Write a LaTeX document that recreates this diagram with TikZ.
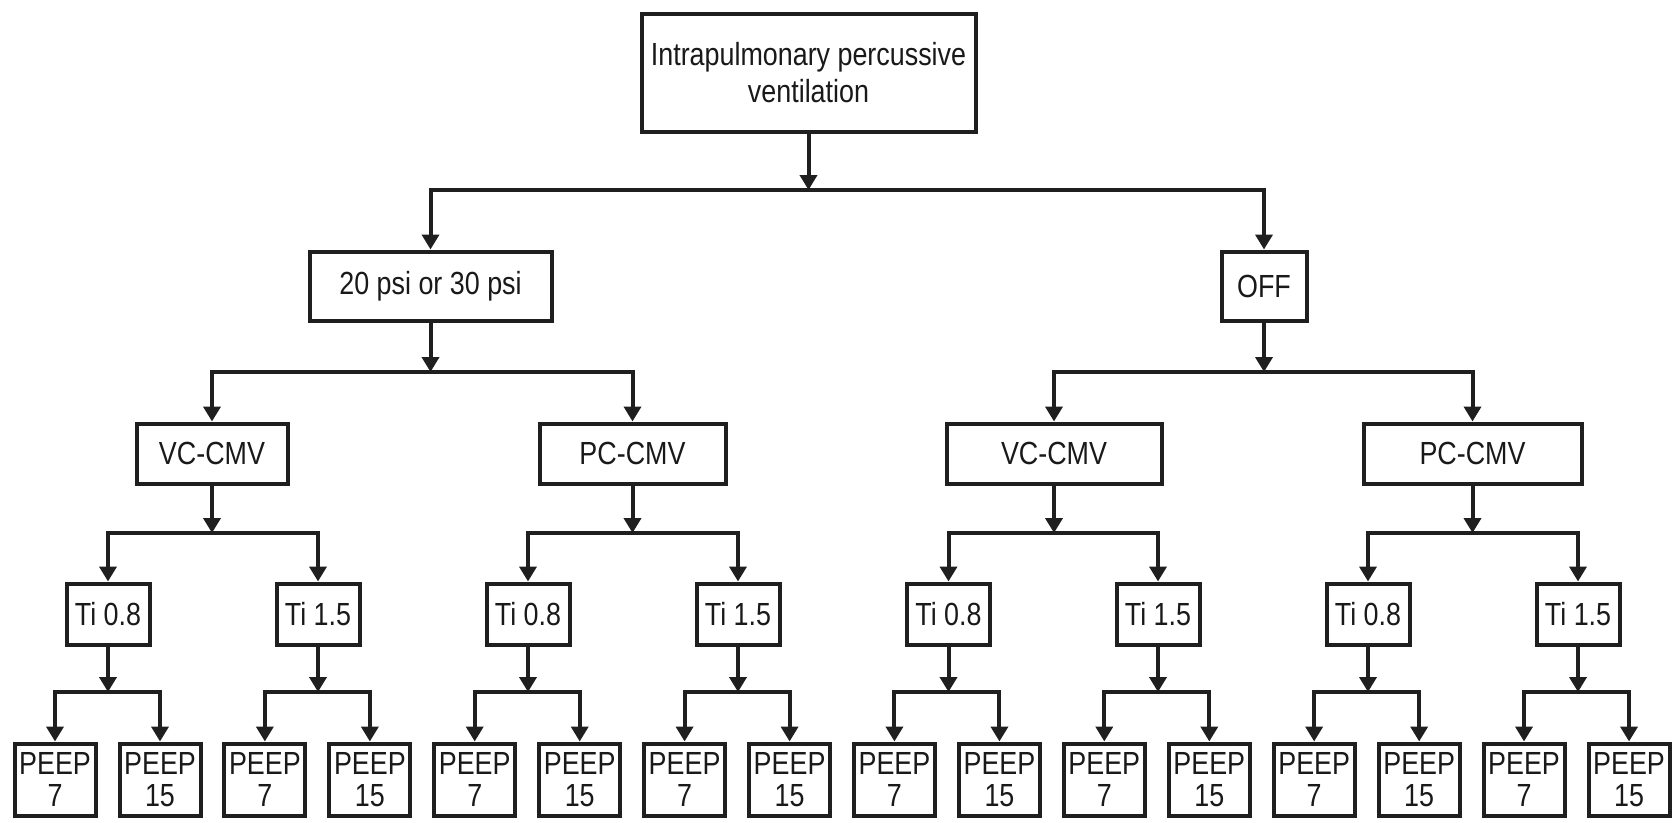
\documentclass[tikz,border=0pt]{standalone}
\usepackage{fontspec}
\setmainfont{Liberation Sans}[FakeStretch=0.84]
\usetikzlibrary{arrows.meta}

\begin{document}
\begin{tikzpicture}[x=1pt, y=-1pt]
  \tikzset{
    box/.style={draw=black!88, line width=4pt, fill=white, inner sep=3pt, align=center, font=\fontsize{32}{34}\selectfont, text=black!90},
    ti/.style={box, minimum width=83pt, minimum height=61pt},
    peep/.style={box, minimum width=81pt, minimum height=72pt, inner sep=2pt, font=\fontsize{32}{32}\selectfont},
    arr/.style={draw=black!88, line width=4pt, -{Triangle[width=17pt,length=15pt]}}
  }
  \useasboundingbox (0,0) rectangle (1672,822);

  % Top box
  \node[box, minimum width=334pt, minimum height=118pt, font=\fontsize{32}{37}\selectfont] (ipv) at (808.5,72.5) {Intrapulmonary percussive\\ventilation};

  % Pressure
  \node[box, minimum width=242pt, minimum height=69pt] (psi) at (430.5,286) {20 psi or 30 psi};
  \node[box, minimum width=85pt, minimum height=69pt] (off) at (1264,286) {OFF};

  \coordinate (ipv-bus) at (ipv.south |- 0,190);
  \draw[arr] (ipv.south) -- (ipv-bus);
  \draw[arr] (ipv-bus) -| (psi.north);
  \draw[arr] (ipv-bus) -| (off.north);

  % Modes
  \node[box, minimum width=151pt, minimum height=60pt] (vcl) at (212,453.5) {VC-CMV};
  \node[box, minimum width=186pt, minimum height=60pt] (pcl) at (632.5,453.5) {PC-CMV};
  \node[box, minimum width=215pt, minimum height=60pt] (vcr) at (1054,453.5) {VC-CMV};
  \node[box, minimum width=218pt, minimum height=60pt] (pcr) at (1472.5,453.5) {PC-CMV};

  \foreach \src/\a/\b in {psi/vcl/pcl, off/vcr/pcr} {
    \coordinate (\src-bus) at (\src.south |- 0,372);
    \draw[arr] (\src.south) -- (\src-bus);
    \draw[arr] (\src-bus) -| (\a.north);
    \draw[arr] (\src-bus) -| (\b.north);
  }

  % Inspiratory time
  \foreach \src in {vcl,pcl,vcr,pcr} {
    \coordinate (\src-bus) at (\src.south |- 0,533);
    \draw[arr] (\src.south) -- (\src-bus);
  }
  \foreach \src/\i/\x/\ti in {vcl/1/108/0.8, vcl/2/318/1.5, pcl/3/528/0.8, pcl/4/738/1.5, vcr/5/948.5/0.8, vcr/6/1158/1.5, pcr/7/1368/0.8, pcr/8/1578/1.5} {
    \node[ti] (ti\i) at (\x,614) {Ti \ti};
    \draw[arr] (\src-bus) -| (ti\i.north);
  }

  % PEEP
  \foreach \t in {1,...,8} {
    \node[peep] (pa\t) at ({55+209.86*(\t-1)},779.5) {PEEP\\7};
    \node[peep] (pb\t) at ({160+209.86*(\t-1)},779.5) {PEEP\\15};
    \coordinate (ti\t-bus) at (ti\t.south |- 0,692);
    \draw[arr] (ti\t.south) -- (ti\t-bus);
    \draw[arr] (ti\t-bus) -| (pa\t.north);
    \draw[arr] (ti\t-bus) -| (pb\t.north);
  }

\end{tikzpicture}
\end{document}
